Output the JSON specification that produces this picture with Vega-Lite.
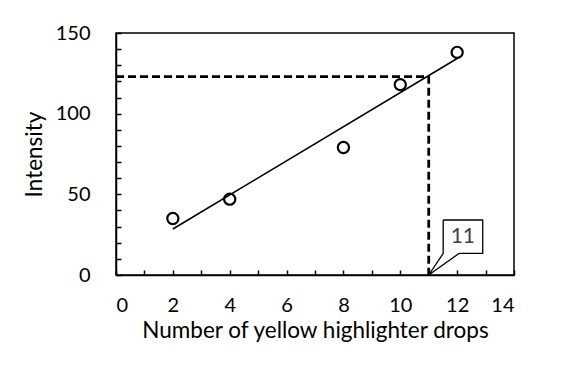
{
  "$schema": "https://vega.github.io/schema/vega-lite/v6.json",
  "width": 398,
  "height": 242,
  "autosize": {"type": "none"},
  "padding": {"left": 116, "top": 33, "right": 50, "bottom": 91},
  "config": {
    "view": {"stroke": "black", "strokeWidth": 1.5},
    "font": "Lato",
    "axis": {
      "grid": false,
      "domainColor": "black",
      "domainWidth": 1.5,
      "tickColor": "black",
      "tickWidth": 1.5,
      "tickSize": -5,
      "labelFont": "Lato",
      "labelFontSize": 20,
      "labelColor": "black",
      "titleFont": "Lato",
      "titleFontSize": 22.5,
      "titleFontWeight": "normal",
      "titleColor": "black"
    }
  },
  "encoding": {
    "x": {"field": "x", "type": "quantitative", "scale": {"domain": [0, 14], "nice": false, "zero": false},
      "axis": {"values": [0,1,2,3,4,5,6,7,8,9,10,11,12,13,14],
        "labelExpr": "datum.value % 2 == 0 ? datum.label : ''",
        "title": "Number of yellow highlighter drops", "labelPadding": 25, "titlePadding": 4}},
    "y": {"field": "y", "type": "quantitative", "scale": {"domain": [0, 150], "nice": false, "zero": false},
      "axis": {"values": [0,10,20,30,40,50,60,70,80,90,100,110,120,130,140,150],
        "labelExpr": "datum.value % 50 == 0 ? datum.label : ''",
        "title": "Intensity", "labelPadding": 31, "titlePadding": 9}}
  },
  "layer": [
    {
      "data": {"values": [
        {"x": 0, "y": 123, "o": 1},
        {"x": 11, "y": 123, "o": 2},
        {"x": 11, "y": 0, "o": 3}
      ]},
      "mark": {"type": "line", "color": "black", "strokeWidth": 2.8, "strokeDash": [8, 4]},
      "encoding": {"order": {"field": "o"}}
    },
    {
      "data": {"values": [
        {"x": 2, "y": 28.5},
        {"x": 12, "y": 134.2}
      ]},
      "mark": {"type": "line", "color": "black", "strokeWidth": 1.6},
      "encoding": {}
    },
    {
      "data": {"values": [
        {"x": 2, "y": 35},
        {"x": 4, "y": 47},
        {"x": 8, "y": 79},
        {"x": 10, "y": 118},
        {"x": 12, "y": 138}
      ]},
      "mark": {"type": "point", "shape": "circle", "filled": false, "color": "black", "size": 125, "strokeWidth": 2.2, "opacity": 1},
      "encoding": {}
    },
    {
      "data": {"values": [
        {"x": 11.51, "y": 34.1, "o": 1},
        {"x": 12.9, "y": 34.1, "o": 2},
        {"x": 12.9, "y": 13.4, "o": 3},
        {"x": 12.07, "y": 13.4, "o": 4},
        {"x": 11, "y": 0, "o": 5},
        {"x": 11.51, "y": 13.4, "o": 6},
        {"x": 11.51, "y": 34.1, "o": 7}
      ]},
      "mark": {"type": "line", "color": "black", "strokeWidth": 1.3},
      "encoding": {"order": {"field": "o"}}
    },
    {
      "data": {"values": [{"x": 12.2, "y": 23.7, "label": "11"}]},
      "mark": {"type": "text", "font": "Lato", "fontSize": 21, "color": "#404040", "align": "center", "baseline": "middle"},
      "encoding": {"text": {"field": "label"}}
    }
  ]
}
